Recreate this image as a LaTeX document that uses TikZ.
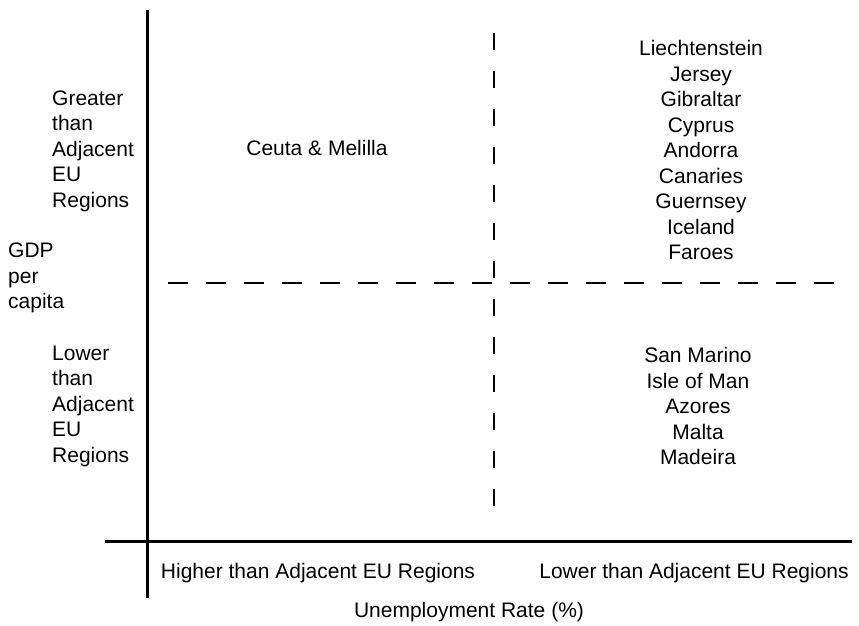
\documentclass[tikz,border=0pt]{standalone}
\usepackage{fontspec}
\setmainfont{Liberation Sans}
\usetikzlibrary{positioning}

\begin{document}
\begin{tikzpicture}[x=1pt, y=-1pt,
  lbl/.style={inner sep=0pt, font=\fontsize{21}{25.5}\selectfont},
  grp/.style={lbl, align=left, anchor=west},
  lst/.style={lbl, align=center},
  axis/.style={line width=3pt},
  split/.style={line width=2.4pt}
]
\useasboundingbox (0,0) rectangle (859,625);
% axes
\coordinate (ytop) at (147,10);
\coordinate (ybot) at (147,598);
\coordinate (xl) at (105,541);
\coordinate (xr) at (852,541);
\draw[axis] (ytop) -- (ybot);
\draw[axis] (xl) -- (xr);
% quadrant split
\coordinate (hl) at (168,283);
\coordinate (hr) at (840,283);
\coordinate (vt) at (494,33);
\coordinate (vb) at (494,517);
\draw[split, dash pattern=on 20pt off 18pt] (hl) -- (hr);
\draw[split, dash pattern=on 17pt off 21pt] (vt) -- (vb);
% GDP axis labels
\node[grp] (gdphi) at (52,151) {Greater\\than\\Adjacent\\EU\\Regions};
\node[grp] (gdp) at (8,278) {GDP\\per\\capita};
\node[grp] (gdplo) at (52,406) {Lower\\than\\Adjacent\\EU\\Regions};
% quadrants
\node[lst] (ceuta) at (317,148) {Ceuta \& Melilla};
\node[lst] (rich) at (701,150) {Liechtenstein\\Jersey\\Gibraltar\\Cyprus\\Andorra\\Canaries\\Guernsey\\Iceland\\Faroes};
\node[lst] (poor) at (698,406) {San Marino\\Isle of Man\\Azores\\Malta\\Madeira};
% unemployment axis labels
\node[lbl] (unhi) at (318,573) {Higher than Adjacent EU Regions};
\node[lbl] (unlo) at (694,573) {Lower than Adjacent EU Regions};
\node[lbl] (unemp) at (469,612) {Unemployment Rate (\%)};
\end{tikzpicture}
\end{document}
